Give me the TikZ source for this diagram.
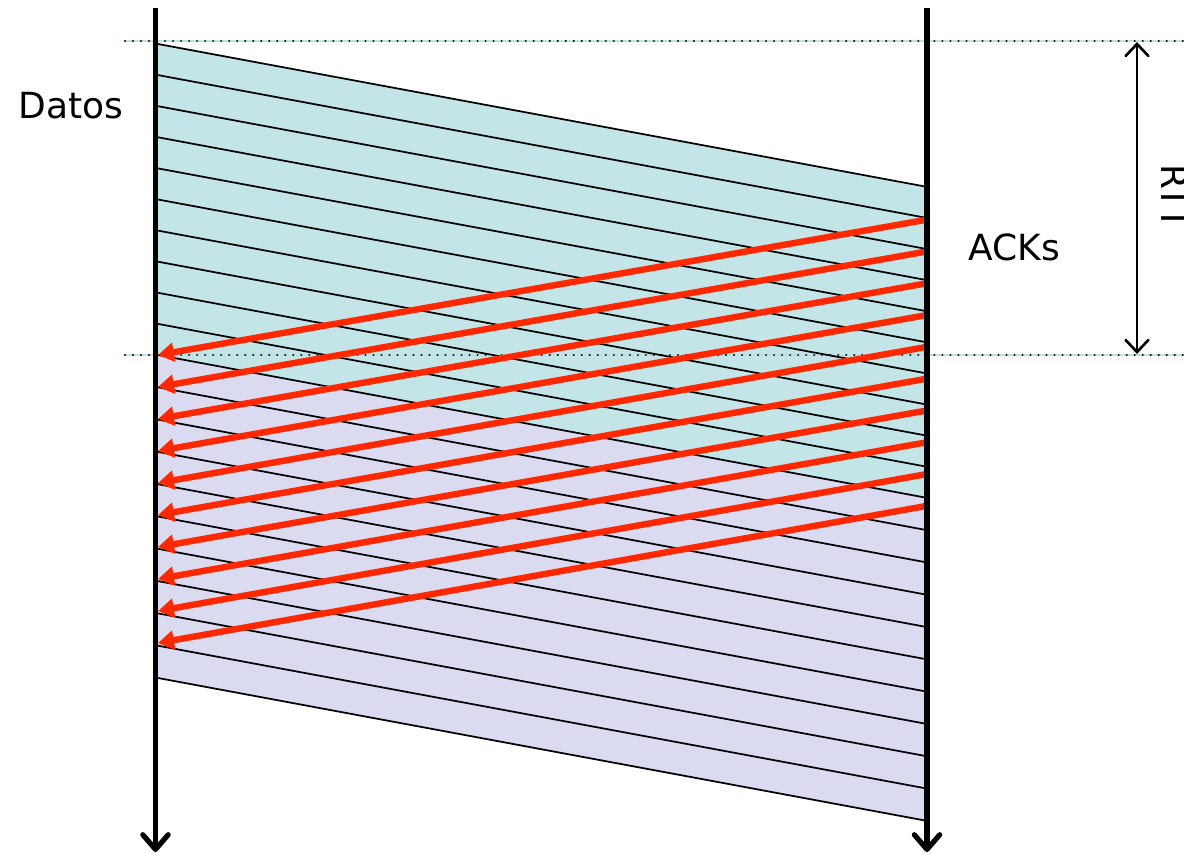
\documentclass[tikz,border=0pt]{standalone}
\usepackage{fontspec}
\setmainfont{DejaVu Sans}
\usetikzlibrary{arrows.meta}
\definecolor{tealfill}{RGB}{196,229,231}
\definecolor{lavfill}{RGB}{218,218,241}
\definecolor{ackred}{RGB}{255,40,0}
\definecolor{dotbg}{RGB}{190,225,228}
\tikzset{
  axisline/.style={line width=3.9pt,-{Straight Barb[length=11pt,width=19pt,line cap=round,line join=round]}},
  dataline/.style={line width=1.3pt,black},
  ackline/.style={line width=4.8pt,ackred,-{Triangle[length=12pt,width=14pt]}},
  guideline/.style={line width=1.7pt,black,line cap=round,dash pattern=on 0.01pt off 6pt},
  guidebg/.style={line width=0.8pt,dotbg},
  rttarrow/.style={line width=0.9pt,{Straight Barb[length=9pt,width=17pt,line width=2pt,line cap=round]}-{Straight Barb[length=9pt,width=17pt,line width=2pt,line cap=round]}},
  lbl/.style={font=\fontsize{27}{30}\selectfont,inner sep=0pt}
}
\begin{document}
\begin{tikzpicture}[x=0.75pt,y=-0.75pt]
\useasboundingbox (0,0) rectangle (1184,853);
% fills
\fill[tealfill] (158,44) -- (925,187) -- (925,498) -- (158,355) -- cycle;
\fill[lavfill] (158,355) -- (925,498) -- (925,820) -- (158,678) -- cycle;
% guide lines
\coordinate (g1a) at (125,41); \coordinate (g1b) at (1184,41);
\coordinate (g2a) at (125,355); \coordinate (g2b) at (1184,355);
\draw[guidebg] (g1a) -- (g1b);
\draw[guidebg] (g2a) -- (g2b);
\draw[guideline] (g1a) -- (g1b);
\draw[guideline] (g2a) -- (g2b);
% data lines
\foreach \i in {0,...,20}{
  \pgfmathsetmacro{\ly}{\i<=10 ? 44+31.1*\i : 355+32.3*(\i-10)}
  \coordinate (dl\i) at (158,\ly);
  \coordinate (dr\i) at (925,\ly+142.5);
  \draw[dataline] (dl\i) -- (dr\i);
}
% ack arrows
\foreach \j in {0,...,9}{
  \coordinate (ar\j) at (925,220+31.8*\j);
  \coordinate (al\j) at (158,355+32*\j);
  \draw[ackline] (ar\j) -- (al\j);
}
% axes
\coordinate (lt) at (155.5,8); \coordinate (lb) at (155.5,852);
\coordinate (rt) at (927,8); \coordinate (rb) at (927,852);
\draw[axisline] (lt) -- (lb);
\draw[axisline] (rt) -- (rb);
% RTT arrow
\coordinate (rtttop) at (1137,42); \coordinate (rttbot) at (1137,354);
\draw[rttarrow] (rtttop) -- (rttbot);
% labels
\node[lbl] (datos) at (71,106) {Datos};
\node[lbl] (acks) at (1014,247) {ACKs};
\node[lbl,rotate=-90] (rtt) at (1175,197) {RTT};
\end{tikzpicture}
\end{document}
